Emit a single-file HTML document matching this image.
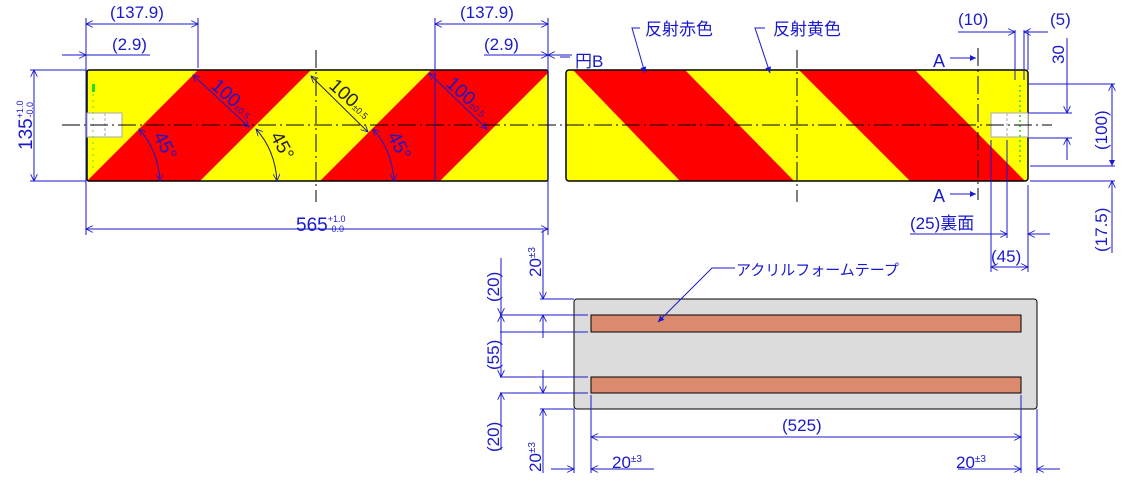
<!DOCTYPE html>
<html><head><meta charset="utf-8"><style>
html,body{margin:0;padding:0;background:#fff}
svg{display:block}
text{font-family:"Liberation Sans Narrow","Liberation Sans","Noto Sans CJK JP",sans-serif;fill:#1a1acc}
</style></head><body>
<svg width="1128" height="487" viewBox="0 0 1128 487" xmlns="http://www.w3.org/2000/svg">
<defs>
<marker id="a" viewBox="0 0 10 10" refX="10" refY="5" markerWidth="9" markerHeight="7" orient="auto-start-reverse" markerUnits="userSpaceOnUse"><path d="M0,0 L10,5 L0,10" fill="none" stroke="#1a1acc" stroke-width="1.2"/></marker>
<marker id="f" viewBox="0 0 10 10" refX="10" refY="5" markerWidth="10" markerHeight="6" orient="auto" markerUnits="userSpaceOnUse"><path d="M0,0 L10,5 L0,10z" fill="#1a1acc"/></marker>
</defs>
<rect x="87" y="70" width="461" height="111" fill="#ffff00"/>
<polygon points="87,181 198,70 311,70 200,181" fill="#ff0000"/>
<polygon points="320,181 431,70 548,70 548,73 440,181" fill="#ff0000"/>
<rect x="87" y="70" width="461" height="111" rx="2" fill="none" stroke="#000" stroke-width="1.5"/>
<rect x="87" y="113" width="35" height="24" fill="#fff" stroke="#aaa"/>
<line x1="105" y1="113" x2="105" y2="137" stroke="#aaa" stroke-dasharray="3,2"/>
<rect x="92" y="84" width="3" height="8" fill="#22dd22"/>
<line x1="93" y1="94" x2="93" y2="172" stroke="#66dd33" stroke-dasharray="2,4"/>
<rect x="566" y="70" width="462" height="111" fill="#ffff00"/>
<polygon points="573,70 685,70 794,181 680,181" fill="#ff0000"/>
<polygon points="799,70 915,70 1025,181 910,181" fill="#ff0000"/>
<rect x="566" y="70" width="462" height="111" rx="3" fill="none" stroke="#000" stroke-width="1.5"/>
<rect x="991" y="113" width="37" height="24" fill="#fff" stroke="#aaa"/>
<line x1="1007" y1="113" x2="1007" y2="137" stroke="#aaa" stroke-dasharray="3,2"/>
<line x1="1020" y1="85" x2="1020" y2="165" stroke="#66dd33" stroke-width="2" stroke-dasharray="2,3"/>
<g stroke="#000" stroke-width="1" stroke-dasharray="18,4,2,4">
<line x1="62" y1="125" x2="1052" y2="125"/>
<line x1="316" y1="50" x2="316" y2="202"/>
<line x1="797" y1="50" x2="797" y2="202"/>
<line x1="978" y1="48" x2="978" y2="200"/>
</g>
<g stroke="#1a1acc" stroke-width="1" fill="none">
<line x1="86" y1="18" x2="86" y2="235"/>
<line x1="198" y1="18" x2="198" y2="68"/>
<line x1="435" y1="18" x2="435" y2="181"/>
<line x1="548" y1="18" x2="548" y2="235"/>
<line x1="30" y1="70" x2="86" y2="70"/><line x1="30" y1="181" x2="86" y2="181"/>
<line x1="86" y1="24" x2="198" y2="24" marker-start="url(#a)" marker-end="url(#a)"/>
<line x1="62" y1="55" x2="86" y2="55" marker-end="url(#a)"/><line x1="86" y1="55" x2="150" y2="55"/>
<line x1="435" y1="24" x2="548" y2="24" marker-start="url(#a)" marker-end="url(#a)"/>
<line x1="484" y1="55" x2="548" y2="55" marker-end="url(#a)"/><line x1="572" y1="55" x2="548" y2="55" marker-end="url(#a)"/>
<line x1="34" y1="70" x2="34" y2="181" marker-start="url(#a)" marker-end="url(#a)"/>
<line x1="86" y1="229" x2="548" y2="229" marker-start="url(#a)" marker-end="url(#a)"/>
<line x1="193" y1="75" x2="249" y2="127" marker-start="url(#a)" marker-end="url(#a)"/>
<line x1="311" y1="76" x2="368" y2="132" marker-start="url(#a)" marker-end="url(#a)" stroke="#223"/>
<line x1="429" y1="73" x2="487" y2="129" marker-start="url(#a)" marker-end="url(#a)"/>
<path d="M139,129 Q158,150 160,181" marker-start="url(#a)" marker-end="url(#a)"/>
<path d="M256,129 Q275,150 277,181" marker-start="url(#a)" marker-end="url(#a)" stroke="#223"/>
<path d="M373,129 Q392,150 394,181" marker-start="url(#a)" marker-end="url(#a)"/>
<line x1="560" y1="57" x2="570" y2="57"/>
<polyline points="640,28 632,28 645,73" marker-end="url(#f)"/>
<polyline points="765,28 755,28 770,73" marker-end="url(#f)"/>
<line x1="950" y1="58" x2="976" y2="58" marker-end="url(#f)"/>
<line x1="950" y1="194" x2="976" y2="194" marker-end="url(#f)"/>
<line x1="1015" y1="30" x2="1015" y2="80"/><line x1="1024" y1="30" x2="1024" y2="80"/><line x1="1028" y1="30" x2="1028" y2="70"/>
<line x1="958" y1="32" x2="1015" y2="32" marker-end="url(#a)"/>
<line x1="1028" y1="32" x2="1048" y2="32"/><line x1="1048" y1="32" x2="1024" y2="32" marker-end="url(#a)"/>
<line x1="1028" y1="113" x2="1072" y2="113"/><line x1="1028" y1="138" x2="1072" y2="138"/>
<line x1="1067" y1="38" x2="1067" y2="113" marker-end="url(#a)"/>
<line x1="1067" y1="160" x2="1067" y2="138" marker-end="url(#a)"/>
<line x1="1028" y1="84" x2="1115" y2="84"/><line x1="1030" y1="166" x2="1115" y2="166"/><line x1="1030" y1="181" x2="1115" y2="181"/>
<line x1="1112" y1="84" x2="1112" y2="166" marker-start="url(#a)" marker-end="url(#f)"/>
<line x1="1112" y1="181" x2="1112" y2="253" marker-start="url(#a)"/>
<line x1="991" y1="140" x2="991" y2="272"/><line x1="1007" y1="140" x2="1007" y2="238"/><line x1="1028" y1="185" x2="1028" y2="272"/>
<line x1="910" y1="234" x2="1007" y2="234" marker-end="url(#a)"/>
<line x1="1050" y1="234" x2="1028" y2="234" marker-end="url(#a)"/>
<line x1="991" y1="267" x2="1028" y2="267" marker-start="url(#a)" marker-end="url(#a)"/>
</g>
<rect x="574" y="299" width="463" height="110" rx="3" fill="#dcdcdc" stroke="#000"/>
<rect x="591" y="315" width="430" height="17" fill="#db8a6e" stroke="#000"/>
<rect x="591" y="377" width="430" height="16" fill="#db8a6e" stroke="#000"/>
<g stroke="#1a1acc" stroke-width="1" fill="none">
<line x1="540" y1="299" x2="574" y2="299"/><line x1="540" y1="409" x2="574" y2="409"/>
<line x1="500" y1="315" x2="588" y2="315"/><line x1="500" y1="332" x2="588" y2="332"/>
<line x1="500" y1="377" x2="588" y2="377"/><line x1="500" y1="393" x2="588" y2="393"/>
<line x1="543" y1="230" x2="543" y2="299" marker-end="url(#a)"/><line x1="543" y1="338" x2="543" y2="315" marker-end="url(#a)"/>
<line x1="543" y1="370" x2="543" y2="393" marker-end="url(#a)"/><line x1="543" y1="473" x2="543" y2="409" marker-end="url(#a)"/>
<line x1="501" y1="258" x2="501" y2="315" marker-end="url(#a)"/>
<line x1="501" y1="315" x2="501" y2="377" marker-start="url(#a)" marker-end="url(#a)"/>
<line x1="501" y1="450" x2="501" y2="393" marker-end="url(#a)"/>
<line x1="574" y1="409" x2="574" y2="473"/><line x1="1037" y1="409" x2="1037" y2="473"/>
<line x1="591" y1="395" x2="591" y2="473"/><line x1="1021" y1="395" x2="1021" y2="473"/>
<line x1="591" y1="437" x2="1021" y2="437" marker-start="url(#a)" marker-end="url(#a)"/>
<line x1="551" y1="469" x2="574" y2="469" marker-end="url(#a)"/><line x1="654" y1="469" x2="591" y2="469" marker-end="url(#a)"/>
<line x1="958" y1="469" x2="1021" y2="469" marker-end="url(#a)"/><line x1="1060" y1="469" x2="1037" y2="469" marker-end="url(#a)"/>
<polyline points="735,268 712,268 658,322" marker-end="url(#f)"/>
</g>
<g font-size="17">
<text x="110" y="18">(137.9)</text>
<text x="112" y="50">(2.9)</text>
<text x="460" y="18">(137.9)</text>
<text x="484" y="50">(2.9)</text>
<text x="296" y="231" font-size="19">565<tspan font-size="9" dy="-9">+1.0</tspan><tspan font-size="9" dx="-17" dy="10">-0.0</tspan></text>
<text transform="translate(32,150) rotate(-90)" font-size="19">135<tspan font-size="9" dy="-9">+1.0</tspan><tspan font-size="9" dx="-17" dy="10">-0.0</tspan></text>
<text transform="translate(210,87) rotate(42)" font-size="19">100<tspan font-size="9">±0.5</tspan></text>
<text transform="translate(328,87) rotate(42)" font-size="19" style="fill:#223">100<tspan font-size="9">±0.5</tspan></text>
<text transform="translate(445,85) rotate(42)" font-size="19">100<tspan font-size="9">±0.5</tspan></text>
<text transform="translate(153,136) rotate(62)" font-size="19">45°</text>
<text transform="translate(270,136) rotate(62)" font-size="19" style="fill:#223">45°</text>
<text transform="translate(387,136) rotate(62)" font-size="19">45°</text>
<text x="575" y="67" font-size="17">円B</text>
<text x="645" y="35" font-size="17">反射赤色</text>
<text x="773" y="35" font-size="17">反射黄色</text>
<text x="933" y="67" font-size="18">A</text>
<text x="933" y="202" font-size="18">A</text>
<text x="958" y="25">(10)</text>
<text x="1050" y="25">(5)</text>
<text transform="translate(1064,64) rotate(-90)">30</text>
<text transform="translate(1107,150) rotate(-90)">(100)</text>
<text transform="translate(1107,252) rotate(-90)">(17.5)</text>
<text x="910" y="229">(25)裏面</text>
<text x="991" y="262">(45)</text>
<text x="736" y="275" font-size="15">アクリルフォームテープ</text>
<text transform="translate(541,277) rotate(-90)">20<tspan font-size="10" dy="-6">±3</tspan></text>
<text transform="translate(541,472) rotate(-90)">20<tspan font-size="10" dy="-6">±3</tspan></text>
<text transform="translate(499,302) rotate(-90)">(20)</text>
<text transform="translate(499,370) rotate(-90)">(55)</text>
<text transform="translate(499,452) rotate(-90)">(20)</text>
<text x="782" y="431">(525)</text>
<text x="612" y="468">20<tspan font-size="10" dy="-6">±3</tspan></text>
<text x="956" y="468">20<tspan font-size="10" dy="-6">±3</tspan></text>
</g>
</svg>
</body></html>
